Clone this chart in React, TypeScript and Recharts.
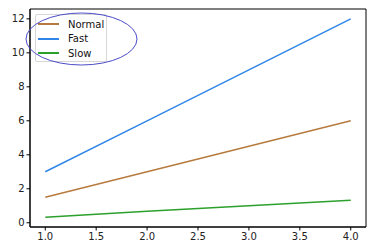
import React from 'react';
import { LineChart, Line, XAxis, YAxis, ReferenceArea } from 'recharts';

const xValues = [1, 2, 3, 4];
const normal = [1.5, 3, 4.5, 6];
const fast = [3, 6, 9, 12];
const slow = [0.33, 0.67, 1, 1.33];

const xTicks = [1, 1.5, 2, 2.5, 3, 3.5, 4];
const yTicks = [0, 2, 4, 6, 8, 10, 12];

const seriesList = [
  { key: 'Normal', values: normal, color: '#b77a3e' },
  { key: 'Fast', values: fast, color: '#2f86e8' },
  { key: 'Slow', values: slow, color: '#2ca02c' },
];

const data = xValues.map((x, i) => ({
  x,
  Normal: normal[i],
  Fast: fast[i],
  Slow: slow[i],
}));

const font = 'DejaVu Sans, sans-serif';

const LegendBox = () => (
  <div
    style={{
      position: 'absolute',
      left: 35,
      top: 14,
      border: '1px solid #d6d6d6',
      borderRadius: 2,
      background: 'rgba(255,255,255,0.8)',
      width: 72,
      height: 48,
      boxSizing: 'border-box',
      fontFamily: font,
      fontSize: 10,
      color: '#111',
      paddingTop: 2,
    }}
  >
    {seriesList.map((s) => (
      <div key={s.key} style={{ display: 'flex', alignItems: 'center', height: 14.5 }}>
        <div style={{ width: 21, height: 2, background: s.color, marginLeft: 2, marginRight: 9 }} />
        <span>{s.key}</span>
      </div>
    ))}
  </div>
);

export default function App() {
  return (
    <div style={{ position: 'absolute', left: 0, top: 0, width: 387, height: 250, background: '#fff' }}>
      <LineChart width={387} height={250} data={data} margin={{ top: 9, right: 21, bottom: 0, left: 0 }}>
        <XAxis
          dataKey="x"
          type="number"
          domain={[0.85, 4.15]}
          ticks={xTicks}
          allowDataOverflow
          tickFormatter={(v: number) => v.toFixed(1)}
          height={23}
          stroke="#000"
          tickSize={3.5}
          tick={{ fill: '#222', fontSize: 10, fontFamily: font }}
        />
        <YAxis
          type="number"
          domain={[-0.25, 12.58]}
          ticks={yTicks}
          allowDataOverflow
          width={30}
          stroke="#000"
          tickSize={3.5}
          tick={{ fill: '#222', fontSize: 10, fontFamily: font }}
        />
        <ReferenceArea
          x1={0.85}
          x2={4.15}
          y1={-0.25}
          y2={12.58}
          fill="none"
          stroke="#000"
          strokeWidth={1}
          ifOverflow="visible"
        />
        {seriesList.map((s) => (
          <Line
            key={s.key}
            dataKey={s.key}
            stroke={s.color}
            strokeWidth={1.5}
            dot={false}
            isAnimationActive={false}
          />
        ))}
      </LineChart>
      <LegendBox />
      <svg width={387} height={250} style={{ position: 'absolute', left: 0, top: 0, pointerEvents: 'none' }}>
        <ellipse cx={81.5} cy={39} rx={55.5} ry={26} fill="none" stroke="#4b4bc8" strokeWidth={1} />
      </svg>
    </div>
  );
}
